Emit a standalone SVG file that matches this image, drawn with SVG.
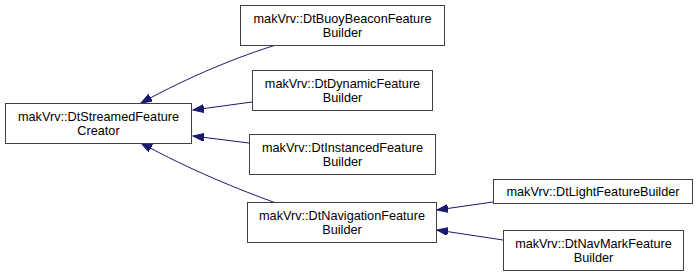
<svg xmlns="http://www.w3.org/2000/svg" width="699" height="276" viewBox="0 0 699 276">
<style>
.box{fill:#fff;stroke:#404040;stroke-width:1}
.t{font-family:"Liberation Sans",Arial,sans-serif;font-size:12.7px;fill:#000;text-anchor:middle}
.e{fill:none;stroke:#191970;stroke-width:1}
</style>
<defs>
<marker id="ah" markerUnits="userSpaceOnUse" markerWidth="12" markerHeight="10" refX="11" refY="4" orient="auto">
<path d="M0,0 L11,4 L0,8 z" fill="#191970" stroke="#191970" stroke-width="1"/>
</marker>
</defs>
<rect width="699" height="276" fill="#fff"/>
<g id="edges">
<path class="e" marker-end="url(#ah)" d="M276,45 C240,56 190,76 141,103"/>
<path class="e" marker-end="url(#ah)" d="M252,102 L193,110"/>
<path class="e" marker-end="url(#ah)" d="M249,143 L193,136"/>
<path class="e" marker-end="url(#ah)" d="M276,203 C240,190 190,170 141,143"/>
<path class="e" marker-end="url(#ah)" d="M493,202 L437,210"/>
<path class="e" marker-end="url(#ah)" d="M503,240 L437,230"/>
</g>
<g id="n_main">
<rect class="box" x="5.5" y="103.5" width="186" height="40"/>
<text class="t" x="98.5" y="120.5">makVrv::DtStreamedFeature</text>
<text class="t" x="98.5" y="134.5">Creator</text>
</g>
<g id="n_buoy">
<rect class="box" x="240.5" y="5.5" width="204" height="40"/>
<text class="t" x="342.5" y="22.5">makVrv::DtBuoyBeaconFeature</text>
<text class="t" x="342.5" y="36.5">Builder</text>
</g>
<g id="n_dynamic">
<rect class="box" x="252.5" y="70.5" width="180" height="40"/>
<text class="t" x="342.5" y="87.5">makVrv::DtDynamicFeature</text>
<text class="t" x="342.5" y="101.5">Builder</text>
</g>
<g id="n_instanced">
<rect class="box" x="249.5" y="134.5" width="186" height="40"/>
<text class="t" x="342.5" y="151.5">makVrv::DtInstancedFeature</text>
<text class="t" x="342.5" y="165.5">Builder</text>
</g>
<g id="n_nav">
<rect class="box" x="247.5" y="202.5" width="189" height="40"/>
<text class="t" x="342" y="219.5">makVrv::DtNavigationFeature</text>
<text class="t" x="342" y="233.5">Builder</text>
</g>
<g id="n_light">
<rect class="box" x="493.5" y="179.5" width="199" height="24"/>
<text class="t" x="593" y="195.5">makVrv::DtLightFeatureBuilder</text>
</g>
<g id="n_navmark">
<rect class="box" x="503.5" y="230.5" width="180" height="40"/>
<text class="t" x="593.5" y="247.5">makVrv::DtNavMarkFeature</text>
<text class="t" x="593.5" y="261.5">Builder</text>
</g>
</svg>
